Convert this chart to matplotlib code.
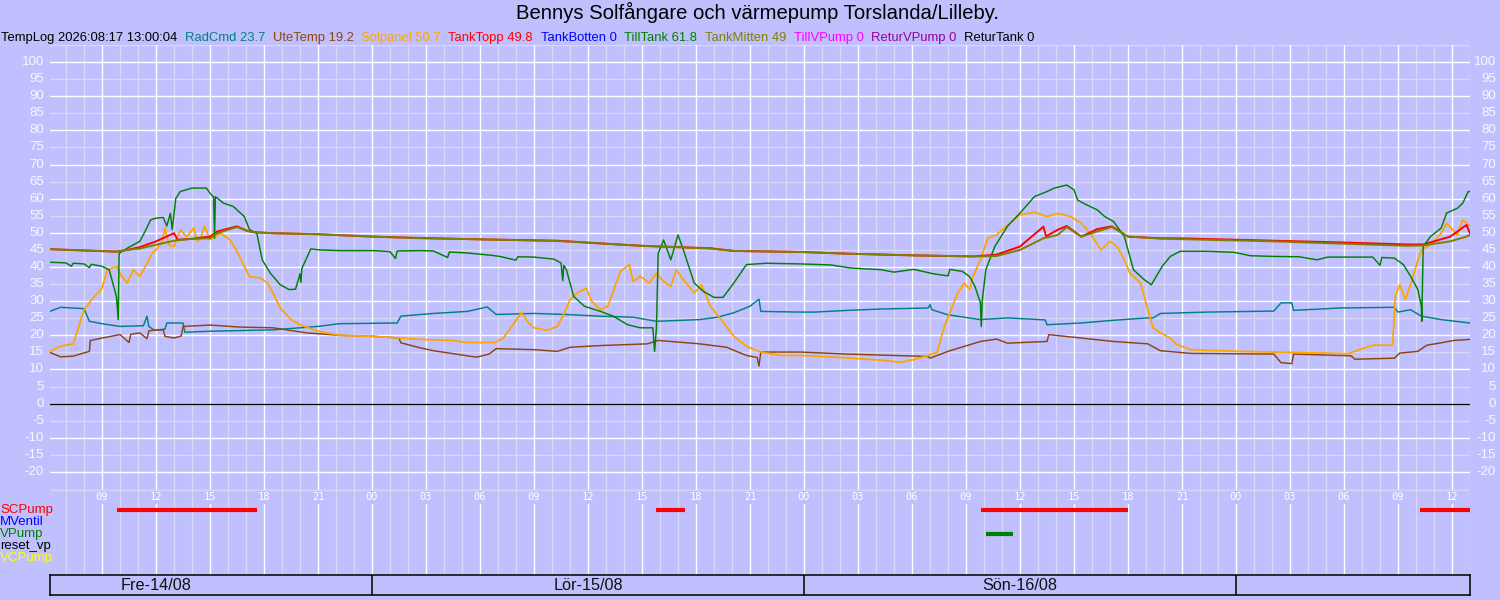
import matplotlib
matplotlib.use("Agg")
import matplotlib.pyplot as plt
import matplotlib.transforms as mtransforms

plt.rcParams['font.family'] = ['Liberation Sans', 'DejaVu Sans']

# ---------------- data (time in hours since Fre 14/08 00:00) ----------------
title = "Bennys Solfångare och värmepump Torslanda/Lilleby."
stamp = "TempLog 2026:08:17 13:00:04"
series_names = ["RadCmd", "UteTemp", "Solpanel", "TankTopp", "TankBotten",
                "TillTank", "TankMitten", "TillVPump", "ReturVPump", "ReturTank"]
series_last = ["23.7", "19.2", "50.7", "49.8", "0", "61.8", "49", "0", "0", "0"]
series_colors = ["#008080", "#8B4513", "#FFA500", "#FF0000", "#0000FF",
                 "#008000", "#808000", "#FF00FF", "#990099", "#000000"]

radcmd_t = [6.1, 6.7, 8.0, 8.3, 9.0, 10.0, 11.3, 11.5, 11.6, 11.9, 12.5, 12.6, 13.5, 13.6, 15.0, 18.5,
            21.0, 22.2, 25.4, 25.6, 26.7, 27.4, 29.3, 30.4, 30.9, 33.0, 34.8, 36.7, 38.5, 39.8, 42.2,
            43.2, 44.1, 45.0, 45.5, 45.6, 47.8, 48.6, 50.4, 52.3, 54.9, 55.0, 55.1, 56.0, 57.8, 59.3,
            61.4, 61.5, 63.4, 65.2, 67.1, 67.4, 67.8, 70.4, 74.1, 74.5, 75.1, 75.2, 77.8, 80.8, 81.0,
            81.7, 82.3, 83.4, 85.0]
radcmd_v = [27.0, 28.2, 27.8, 24.1, 23.4, 22.6, 22.8, 25.6, 22.6, 21.5, 21.8, 23.6, 23.6, 20.9, 21.2, 21.6,
            22.6, 23.4, 23.6, 25.6, 26.1, 26.4, 27.0, 28.3, 26.1, 26.4, 26.1, 25.6, 25.3, 24.1, 24.6,
            25.3, 26.6, 28.5, 30.6, 27.0, 26.8, 26.8, 27.3, 27.7, 28.0, 29.0, 27.5, 26.0, 24.6, 25.1,
            24.5, 23.1, 23.6, 24.4, 25.1, 25.1, 26.4, 26.8, 27.1, 29.5, 29.5, 27.3, 28.0, 28.2, 26.8,
            27.5, 25.6, 24.6, 23.6]

utetemp_t = [6.1, 6.7, 7.4, 8.3, 8.35, 9.0, 10.0, 10.5, 10.6, 11.1, 11.5, 11.6, 11.9, 12.4, 12.5, 13.0,
             13.4, 13.5, 15.0, 16.7, 18.5, 20.4, 22.2, 24.1, 25.5, 25.6, 26.7, 27.4, 29.8, 30.5, 30.9,
             33.0, 34.3, 35.0, 36.7, 39.3, 39.9, 42.2, 43.7, 44.8, 45.4, 45.5, 45.6, 47.8, 50.4, 54.9,
             55.0, 56.0, 57.8, 58.7, 59.3, 61.5, 61.6, 63.4, 65.2, 67.1, 67.8, 69.5, 74.1, 74.5, 75.1,
             75.2, 78.4, 78.6, 80.8, 81.1, 82.1, 82.6, 83.4, 84.1, 85.0]
utetemp_v = [15.0, 13.7, 13.9, 15.3, 18.5, 19.2, 20.2, 17.9, 20.3, 20.7, 19.0, 21.3, 21.5, 21.6, 19.7, 19.2,
             19.8, 22.6, 23.0, 22.4, 22.2, 20.7, 20.0, 19.7, 19.2, 17.8, 16.3, 15.5, 13.6, 14.5, 16.1,
             15.8, 15.3, 16.5, 17.0, 17.5, 18.5, 17.5, 16.5, 14.1, 13.5, 11.0, 15.1, 15.1, 14.5, 13.8,
             13.3, 15.3, 18.2, 18.9, 17.7, 18.2, 20.2, 19.2, 18.2, 17.5, 15.5, 14.7, 14.5, 12.0, 11.7,
             14.5, 14.0, 13.0, 13.3, 14.8, 15.3, 17.1, 17.8, 18.5, 18.8]

solpanel_t = [6.1, 6.7, 7.4, 7.6, 8.0, 8.5, 9.0, 9.3, 9.8, 10.1, 10.4, 10.75, 11.1, 11.5, 11.8, 12.0,
              12.3, 12.5, 12.7, 13.0, 13.35, 13.7, 14.1, 14.3, 14.5, 14.7, 15.0, 15.6, 16.1, 16.5, 16.9,
              17.2, 17.8, 18.2, 18.5, 18.9, 19.5, 20.0, 21.0, 22.2, 24.0, 25.6, 26.7, 28.4, 29.3, 30.8,
              31.3, 31.9, 32.3, 32.7, 33.0, 33.7, 34.3, 34.6, 35.0, 35.4, 35.9, 36.2, 36.7, 37.1, 37.4,
              37.8, 38.3, 38.5, 38.9, 39.4, 39.8, 40.2, 40.6, 40.9, 41.3, 41.9, 42.3, 42.8, 43.4, 44.1,
              44.8, 45.6, 46.7, 47.8, 48.6, 50.4, 52.3, 53.4, 54.1, 54.9, 55.4, 55.8, 56.1, 56.5, 56.9,
              57.2, 57.4, 57.8, 58.2, 58.7, 59.3, 60.0, 60.8, 61.5, 62.1, 62.8, 63.4, 63.9, 64.5, 65.0,
              65.4, 65.8, 66.1, 66.7, 67.05, 67.4, 67.8, 68.35, 68.7, 69.5, 70.4, 72.2, 74.1, 76.9, 78.2,
              78.6, 79.6, 80.7, 80.85, 81.1, 81.4, 81.7, 82.0, 82.3, 82.8, 83.4, 83.7, 84.3, 84.6, 85.0]
solpanel_v = [15.3, 16.8, 17.5, 20.7, 27.5, 30.9, 33.8, 39.2, 40.2, 37.2, 35.3, 39.2, 37.2, 41.1, 44.1, 45.0,
              47.0, 51.4, 46.5, 46.0, 50.9, 48.9, 51.4, 47.5, 48.9, 52.0, 48.0, 49.9, 48.0, 44.6, 40.2,
              37.2, 36.8, 35.3, 32.4, 28.0, 24.6, 23.1, 21.2, 20.0, 19.7, 19.2, 18.8, 18.5, 17.9, 17.9,
              19.2, 23.6, 26.7, 23.6, 22.2, 21.5, 22.6, 25.6, 30.4, 32.4, 33.8, 30.0, 27.5, 28.5, 32.9,
              38.7, 40.7, 35.8, 37.3, 35.3, 38.2, 35.8, 34.3, 39.2, 36.3, 32.4, 34.8, 28.5, 24.6, 19.7,
              16.8, 15.1, 14.1, 14.1, 13.9, 13.4, 12.7, 12.1, 12.9, 14.1, 15.1, 22.6, 26.6, 31.9, 35.3,
              33.4, 37.3, 42.1, 48.4, 49.4, 52.3, 55.3, 56.0, 54.8, 55.7, 54.8, 52.8, 49.9, 45.0, 47.5,
              46.0, 42.1, 38.2, 35.3, 28.5, 22.1, 20.7, 19.2, 17.3, 15.8, 15.6, 15.3, 15.1, 14.8, 14.6,
              15.3, 17.1, 17.1, 31.5, 34.8, 30.5, 34.8, 40.2, 45.0, 46.5, 49.9, 52.8, 49.4, 53.8, 51.9]

tanktopp_t = [6.1, 9.8, 10.4, 11.1, 12.0, 13.0, 13.2, 13.9, 15.0, 15.4, 16.5, 17.05, 17.4, 18.5, 21.0,
              24.0, 26.7, 30.0, 34.3, 38.0, 39.0, 42.8, 44.1, 47.8, 50.4, 54.1, 57.4, 58.7, 60.0, 61.3,
              61.45, 62.1, 62.6, 63.4, 64.3, 65.1, 66.0, 67.8, 68.9, 74.1, 77.8, 81.5, 82.4, 83.0, 83.9,
              84.8, 85.0]
tanktopp_v = [45.2, 44.5, 45.0, 45.8, 47.5, 49.9, 48.0, 48.2, 48.9, 50.4, 51.9, 50.6, 50.2, 49.9, 49.6,
              48.9, 48.5, 48.1, 47.7, 46.5, 46.2, 45.5, 44.7, 44.4, 43.9, 43.4, 43.1, 43.6, 46.0, 51.8,
              49.0, 50.9, 52.0, 48.9, 51.1, 51.9, 48.9, 48.4, 48.4, 47.7, 47.2, 46.6, 46.6, 47.5, 48.9,
              52.3, 49.9]

tankmitten_t = [6.1, 9.8, 10.4, 11.1, 12.0, 13.0, 13.9, 15.0, 15.4, 16.5, 17.05, 17.4, 18.5, 21.0, 24.0,
                26.7, 30.0, 34.3, 38.0, 39.0, 42.8, 44.1, 47.8, 50.4, 54.1, 57.4, 58.7, 60.0, 61.3, 62.1,
                62.6, 63.4, 64.3, 65.1, 66.0, 67.8, 74.1, 81.5, 82.4, 83.0, 83.9, 84.8, 85.0]
tankmitten_v = [45.2, 44.5, 45.0, 45.4, 46.5, 47.7, 48.2, 48.4, 49.9, 51.7, 50.6, 50.2, 49.9, 49.6, 48.9,
                48.4, 48.1, 47.6, 46.5, 46.2, 45.4, 44.7, 44.4, 43.9, 43.4, 43.1, 43.2, 45.0, 48.4, 49.4,
                51.7, 48.9, 50.4, 51.7, 48.9, 48.3, 47.5, 46.2, 46.3, 46.8, 47.5, 48.9, 49.4]

tilltank_t = [6.1, 7.0, 7.3, 7.4, 8.0, 8.3, 8.4, 9.0, 9.4, 9.8, 9.9, 9.95, 10.4, 11.1, 11.4, 11.7, 12.0,
              12.4, 12.6, 12.8, 12.9, 13.1, 13.35, 14.0, 14.8, 15.0, 15.2, 15.25, 15.3, 15.75, 16.3, 16.9,
              17.2, 17.6, 17.9, 18.35, 18.9, 19.4, 19.75, 20.0, 20.05, 20.1, 20.6, 21.1, 22.2, 24.1, 25.0,
              25.3, 25.4, 26.7, 27.4, 28.2, 28.3, 29.3, 30.5, 31.1, 32.0, 32.1, 33.0, 34.1, 34.5, 34.6,
              34.65, 34.8, 35.2, 35.8, 36.7, 37.4, 38.2, 38.9, 39.6, 39.7, 39.8, 39.9, 40.2, 40.6, 41.0,
              41.3, 41.6, 41.9, 42.4, 43.0, 43.5, 44.1, 44.8, 45.9, 47.8, 49.5, 50.6, 52.3, 53.0, 54.1,
              55.2, 56.0, 56.1, 56.8, 57.2, 57.5, 57.8, 57.85, 57.9, 58.1, 58.6, 59.3, 60.0, 60.8, 61.5,
              61.9, 62.6, 63.0, 63.2, 63.7, 64.3, 64.7, 65.2, 65.8, 66.1, 66.3, 66.9, 67.3, 67.9, 68.35,
              68.9, 70.4, 71.9, 72.8, 74.1, 75.5, 76.5, 77.1, 79.6, 80.0, 80.1, 80.8, 81.3, 81.7, 82.1,
              82.3, 82.32, 82.4, 82.8, 83.4, 83.7, 84.3, 84.6, 84.9, 85.0]
tilltank_v = [41.4, 41.2, 40.2, 41.1, 40.9, 39.8, 40.8, 40.2, 39.2, 31.4, 24.6, 44.0, 45.5, 47.5, 50.5, 53.8, 54.3,
              54.5, 52.0, 55.7, 51.0, 60.1, 62.1, 63.1, 63.1, 61.6, 60.5, 48.4, 60.6, 58.7, 57.7, 54.8,
              50.9, 49.9, 42.1, 38.2, 34.8, 33.4, 33.5, 38.0, 35.5, 39.5, 45.3, 45.0, 44.8, 44.8, 44.5,
              42.5, 44.7, 44.8, 44.7, 42.8, 44.4, 44.1, 43.5, 43.1, 42.0, 43.0, 42.9, 42.3, 41.2, 36.0,
              40.5, 39.2, 31.4, 28.5, 27.0, 25.6, 23.1, 22.2, 22.2, 15.3, 22.0, 44.0, 47.9, 42.1, 49.4,
              45.0, 40.2, 35.3, 32.9, 31.1, 31.1, 35.3, 40.7, 41.1, 40.9, 40.6, 39.7, 39.2, 38.5, 39.3,
              38.0, 37.4, 39.3, 38.7, 37.2, 34.3, 29.5, 22.6, 30.0, 39.2, 46.0, 51.9, 55.8, 60.6, 62.1,
              63.1, 64.0, 62.6, 59.6, 58.2, 56.7, 54.8, 53.3, 48.9, 43.1, 39.2, 36.3, 34.8, 40.2, 43.1,
              44.6, 44.6, 44.3, 43.3, 43.1, 43.0, 42.1, 42.9, 42.9, 40.5, 42.8, 42.6, 40.7, 37.3, 33.4,
              28.5, 24.1, 46.0, 48.9, 51.4, 55.8, 57.2, 58.7, 62.1, 62.1]

zero_t = [6.1, 85.0]
zero_v = [0.0, 0.0]

series_t = [radcmd_t, utetemp_t, solpanel_t, tanktopp_t, zero_t, tilltank_t, tankmitten_t, zero_t, zero_t, zero_t]
series_v = [radcmd_v, utetemp_v, solpanel_v, tanktopp_v, zero_v, tilltank_v, tankmitten_v, zero_v, zero_v, zero_v]

pump_names = ["SCPump", "MVentil", "VPump", "reset_vp", "VCPump"]
pump_colors = ["#FF0000", "#0000FF", "#008000", "#000000", "#FFFF00"]
pump_on = [[(9.83, 17.6), (39.8, 41.4), (57.83, 66.0), (82.2, 85.0)], [], [(58.1, 59.6)], [], []]

day_labels = ["Fre-14/08", "Lör-15/08", "Sön-16/08"]
day_centers = [12, 36, 60]
day_bounds = [24, 48, 72]

# ---------------- layout ----------------
W, H = 1500, 600
BG = "#C0C0FF"
MINOR = "#D9D9F7"
fig = plt.figure(figsize=(15, 6), dpi=100, facecolor=BG)

def frac_box(x0, y0, x1, y1):
    return [x0 / W, 1 - y1 / H, (x1 - x0) / W, (y1 - y0) / H]

X0, X1 = 6.111, 85.0
ax = fig.add_axes(frac_box(50, 45, 1470, 489))
ax.set_facecolor(BG)
ax.set_xlim(X0, X1)
ax.set_ylim(-25, 105)
for s in ax.spines.values():
    s.set_visible(False)
ax.set_xticks([]); ax.set_yticks([])

hours = list(range(7, 86))
for hh in hours:
    major = hh % 3 == 0
    ax.axvline(hh, color="white" if major else MINOR, lw=1.0 if major else 0.9, zorder=1 if major else 0.5)
for v in range(-25, 106, 5):
    major = v % 10 == 0
    ax.axhline(v, color="white" if major else MINOR, lw=1.0 if major else 0.9, zorder=1 if major else 0.5)

lws = [1.05, 1.05, 1.3, 1.4, 0.8, 1.05, 1.4, 0.8, 0.8, 0.8]
for t, v, c, w in zip(series_t, series_v, series_colors, lws):
    ax.plot(t, v, color=c, lw=w, zorder=3)

# y tick labels on both sides
ytr = ax.get_yaxis_transform()
lt = mtransforms.offset_copy(ytr, fig=fig, x=-6, y=0, units='dots')
rt = mtransforms.offset_copy(ytr, fig=fig, x=26, y=0, units='dots')
for v in range(-20, 101, 5):
    ax.text(0, v, str(v), transform=lt, ha='right', va='center', fontsize=9.5, color="#F8F8FF")
    ax.text(1, v, str(v), transform=rt, ha='right', va='center', fontsize=9.5, color="#F8F8FF", clip_on=False)

# pump axes
pax = fig.add_axes(frac_box(50, 489, 1470, 575))
pax.set_facecolor(BG)
pax.set_xlim(X0, X1)
pax.set_ylim(575, 489)
for s in pax.spines.values():
    s.set_visible(False)
pax.set_xticks([]); pax.set_yticks([])
for hh in hours:
    major = hh % 3 == 0
    pax.axvline(hh, color="white" if major else MINOR, lw=1.0 if major else 0.9, zorder=1 if major else 0.5)
pax.axhline(490, color=MINOR, lw=0.9)
for hh in range(9, 85, 3):
    pax.text(hh, 497.5, f"{hh % 24:02d}", ha='center', va='center', fontsize=7.5, color='white',
             family='DejaVu Sans Mono', zorder=2,
             bbox=dict(boxstyle='square,pad=0.15', fc=BG, ec='none'))
pump_rows = [510, 522, 534, 546, 558]
for row, c, spans in zip(pump_rows, pump_colors, pump_on):
    for a, b in spans:
        pax.hlines(row, a, b, color=c, lw=3.0, zorder=3)
for row, name, c in zip(pump_rows, pump_names, pump_colors):
    fig.text(0 / W, 1 - row / H, name, ha='left', va='center', fontsize=9.5, color=c)

# date box
dax = fig.add_axes(frac_box(50, 575, 1470, 595))
dax.set_facecolor(BG)
dax.set_xlim(X0, X1)
dax.set_ylim(0, 1)
dax.set_xticks([]); dax.set_yticks([])
for s in dax.spines.values():
    s.set_color('black'); s.set_linewidth(1.1)
for b in day_bounds:
    dax.axvline(b, color='black', lw=1.1)
for c, lab in zip(day_centers, day_labels):
    dax.text(c, 0.45, lab, ha='center', va='center', fontsize=11.7, color='#111111')

# title and legend line
fig.text(757 / W, 1 - 12 / H, title, ha='center', va='center', fontsize=14.6, color='black')
renderer = fig.canvas.get_renderer()
x = 1.0
items = [(stamp, "black")] + [(f"{n} {v}", c) for n, v, c in zip(series_names, series_last, series_colors)]
for txt, c in items:
    t = fig.text(x / W, 1 - 38 / H, txt, ha='left', va='center', fontsize=9.4, color=c)
    bb = t.get_window_extent(renderer=renderer)
    x += bb.width + 7.6

fig.savefig("out.png", dpi=100, facecolor=BG)
